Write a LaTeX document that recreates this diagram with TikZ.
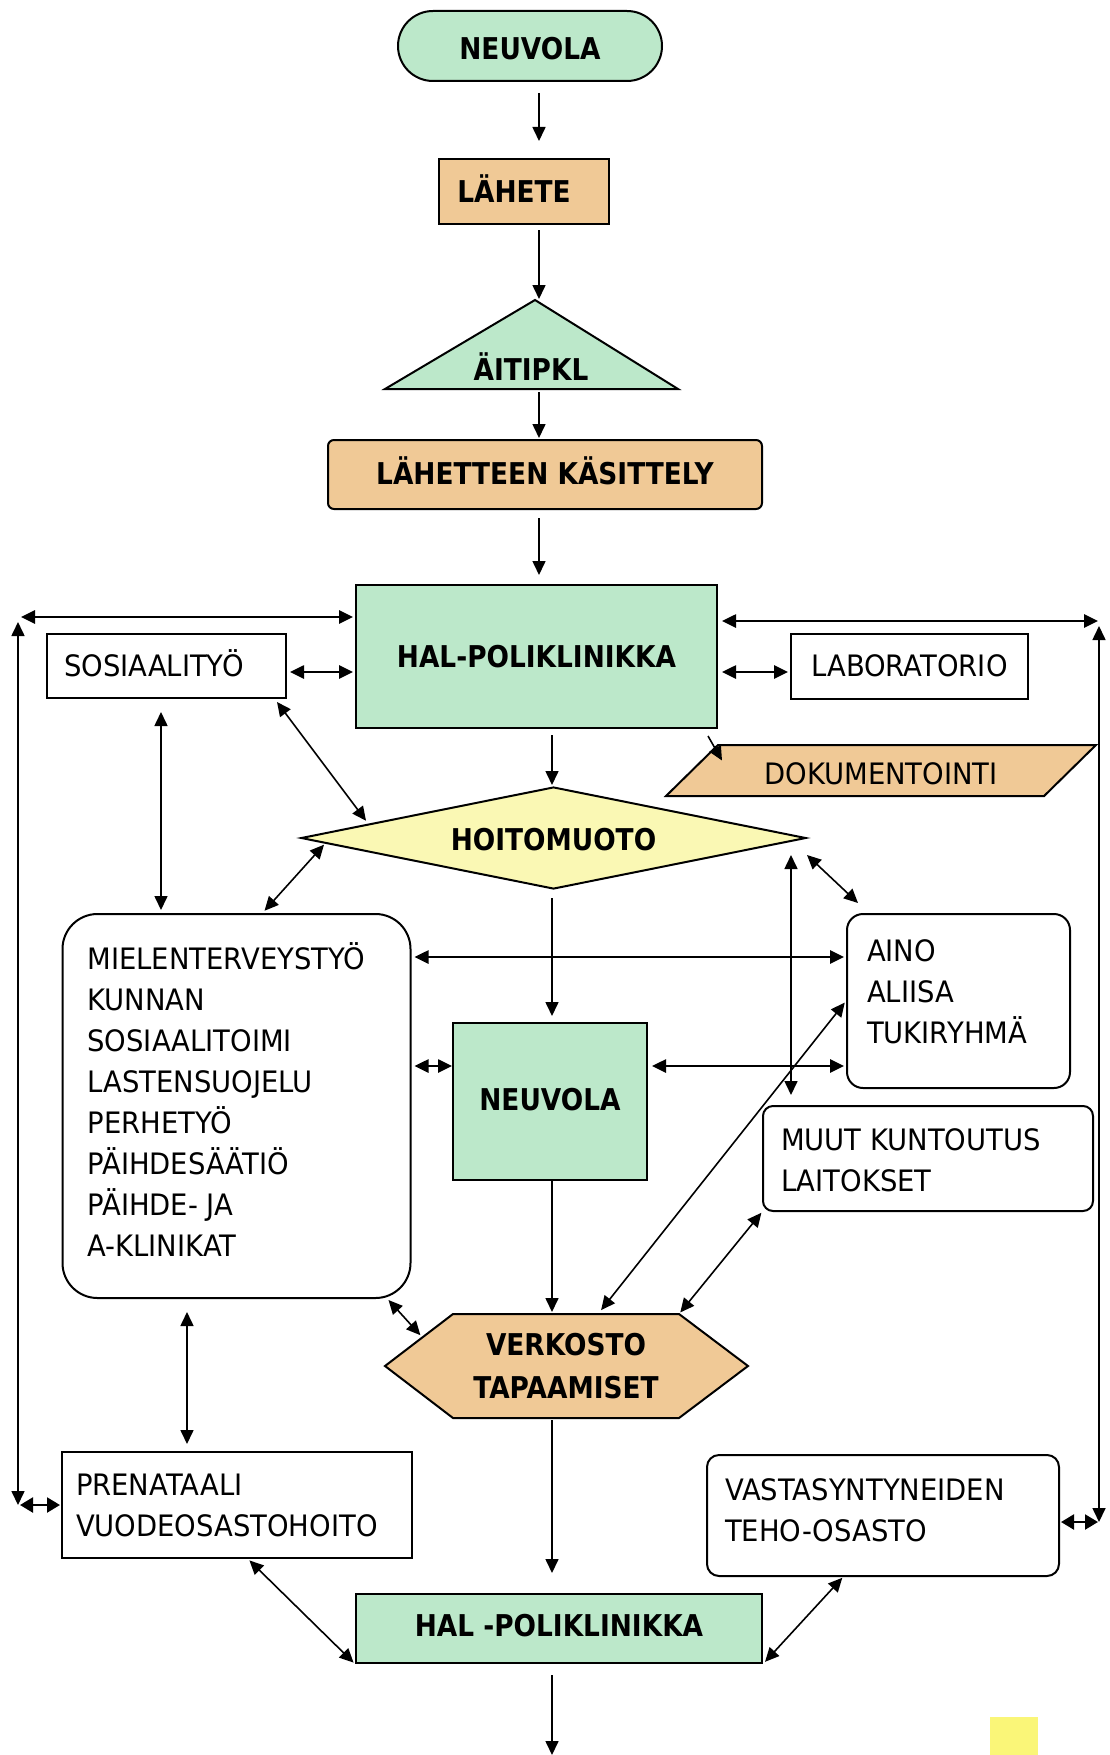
\documentclass[tikz,border=0pt]{standalone}
\usepackage{fontspec}
\newfontfamily\rfont[FakeStretch=0.93]{DejaVu Sans}
\newfontfamily\hfont[FakeStretch=0.88]{DejaVu Sans}
\usetikzlibrary{arrows.meta,shapes.geometric,calc}
\definecolor{mint}{RGB}{188,232,202}
\definecolor{tan}{RGB}{240,201,150}
\definecolor{lemon}{RGB}{250,248,180}
\definecolor{sticky}{RGB}{250,246,120}
\newcommand{\rb}[2]{\raisebox{#1}[\height][\depth]{#2}}
\newcommand{\lines}[3]{\raisebox{#1}[\height][\depth]{\parbox{#2}{\raggedright #3}}}
\tikzset{
  box/.style={draw=black, line width=2pt, inner sep=0pt, font={\rfont\fontsize{29.5}{41}\selectfont}},
  hd/.style={draw=black, line width=2pt, inner sep=0pt, font={\hfont\bfseries\fontsize{30}{43}\selectfont}},
  hdtext/.style={inner sep=0pt, font={\hfont\bfseries\fontsize{30}{43}\selectfont}, align=center},
  tip/.tip={Triangle[length=14pt,width=13pt]},
  stip/.tip={Triangle[length=13pt,width=15pt]},
  con/.style={line width=1.6pt, -tip},
  dcon/.style={line width=1.6pt, tip-tip},
  dthick/.style={line width=2.6pt, tip-tip},
  dshort/.style={line width=2.2pt, stip-stip},
}
\begin{document}
\begin{tikzpicture}[x=1pt,y=-1pt]
\useasboundingbox (0,0) rectangle (1109,1755);
% helper columns / rows
\coordinate (colA) at (539,0);
\coordinate (colB) at (552,0);
\coordinate (c161) at (161,0);
\coordinate (c187) at (187,0);
\coordinate (c791) at (791,0);
\coordinate (r672) at (0,672);
\coordinate (r957) at (0,957);
\coordinate (r1066) at (0,1066);

% ---- nodes ----
\node[hd, fill=mint, rounded corners=35pt, minimum width=264pt, minimum height=70pt] (neu1) at (530,46) {\rb{-3pt}{NEUVOLA}};
\node[hd, fill=tan, minimum width=170pt, minimum height=65pt] (lahete) at (524,191.5) {\rb{3pt}{LÄHETE}\hspace*{20pt}};

\coordinate (tritop) at (535,300);
\coordinate (triL) at (385,389);
\coordinate (triR) at (678,389);
\coordinate (tribase) at (535,389);
\filldraw[fill=mint, draw=black, line width=2pt, line join=miter] (tritop) -- (triR) -- (triL) -- cycle;
\node[hdtext] (aiti) at (531,367) {ÄITIPKL};

\node[hd, fill=tan, rounded corners=6pt, minimum width=434pt, minimum height=69pt] (kas) at (545,474.5) {\rb{4pt}{LÄHETTEEN KÄSITTELY}};
\node[hd, fill=mint, minimum width=361pt, minimum height=143pt] (hal1) at (536.5,656.5) {HAL-POLIKLINIKKA};
\node[box, fill=white, text width=205pt, align=left, inner xsep=17pt, minimum height=64pt] (sos) at (166.5,666) {\rb{3pt}{SOSIAALITYÖ}};
\node[box, fill=white, minimum width=237pt, minimum height=65pt] (lab) at (909.5,666.5) {\rb{1pt}{LABORATORIO}};
\node[box, fill=tan, trapezium, trapezium left angle=31, trapezium right angle=149, trapezium stretches=true, minimum width=432pt, minimum height=51pt] (dok) at (881,770.5) {\rb{-3pt}{DOKUMENTOINTI}};
\node[hd, fill=lemon, diamond, aspect=5, minimum width=505pt, minimum height=102pt] (hoito) at (553.5,838) {\rb{-2pt}{HOITOMUOTO}};

\node[box, fill=white, rounded corners=35pt, inner xsep=25pt, minimum height=384pt] (miel) at (236.5,1106)
  {\lines{6pt}{298pt}{MIELENTERVEYSTYÖ\\KUNNAN\\SOSIAALITOIMI\\LASTENSUOJELU\\PERHETYÖ\\PÄIHDESÄÄTIÖ\\PÄIHDE- JA\\A-KLINIKAT}};
\node[box, fill=white, rounded corners=16pt, inner xsep=20pt, minimum height=174pt] (aino) at (958.5,1001) {\lines{9pt}{183pt}{AINO\\ALIISA\\TUKIRYHMÄ}};
\node[hd, fill=mint, minimum width=194pt, minimum height=157pt] (neu2) at (550,1101.5) {\rb{2pt}{NEUVOLA}};
\node[box, fill=white, rounded corners=10pt, inner xsep=18pt, minimum height=105pt] (muut) at (928,1158.5) {\lines{-2pt}{294pt}{MUUT KUNTOUTUS\\LAITOKSET}};

\coordinate (hexL) at (385,1366);
\coordinate (hexTL) at (453,1314);
\coordinate (hexTR) at (679,1314);
\coordinate (hexR) at (748,1366);
\coordinate (hexBR) at (679,1418);
\coordinate (hexBL) at (453,1418);
\coordinate (hexTop) at (598,1314);
\filldraw[fill=tan, draw=black, line width=2pt, line join=miter] (hexL) -- (hexTL) -- (hexTR) -- (hexR) -- (hexBR) -- (hexBL) -- cycle;
\node[hdtext] (verk) at (566,1366) {VERKOSTO\\TAPAAMISET};

\node[box, fill=white, inner xsep=14pt, minimum height=106pt] (pren) at (237,1505) {\lines{0pt}{322pt}{PRENATAALI\\VUODEOSASTOHOITO}};
\node[box, fill=white, rounded corners=12pt, inner xsep=18pt, minimum height=121pt] (vast) at (883,1515.5) {\lines{5pt}{316pt}{VASTASYNTYNEIDEN\\TEHO-OSASTO}};
\node[hd, fill=mint, minimum width=406pt, minimum height=69pt] (hal2) at (559,1628.5) {\rb{3pt}{HAL -POLIKLINIKKA}};
\node[fill=sticky, inner sep=0pt, minimum width=48pt, minimum height=38pt] (note) at (1014,1736) {};

% ---- connectors ----
\draw[con, shorten <=11pt, shorten >=17pt] (neu1.south -| colA) -- (lahete.north -| colA);
\draw[con, shorten <=5pt, shorten >=1pt] (lahete.south -| colA) -- (tritop -| colA);
\draw[con, shorten <=3pt, shorten >=1pt] (tribase -| colA) -- (kas.north -| colA);
\draw[con, shorten <=8pt, shorten >=9pt] (kas.south -| colA) -- (hal1.north -| colA);

% left loop
\coordinate (LT) at (18,617);
\coordinate (LB) at (18,1505);
\draw[dthick, shorten <=3pt, shorten >=2pt] (LT) -- (hal1.west |- LT);
\draw[dcon, shorten <=5pt, shorten >=0pt] (LT) -- (LB);
\draw[dshort, shorten <=2pt, shorten >=1pt] (LB) -- (pren.west |- LB);
% right loop
\coordinate (RT) at (1099,621);
\coordinate (RB) at (1099,1522);
\draw[dthick, shorten <=4pt, shorten >=1pt] (hal1.east |- RT) -- (RT);
\draw[dcon, shorten <=5pt, shorten >=0pt] (RT) -- (RB);
\draw[dshort, shorten <=1pt, shorten >=1pt] (vast.east |- RB) -- (RB);

\draw[dthick, shorten <=3pt, shorten >=2pt] (sos.east |- r672) -- (hal1.west |- r672);
\draw[dthick, shorten <=4pt, shorten >=2pt] (hal1.east |- r672) -- (lab.west |- r672);
\draw[con, line width=1.6pt] ([shift={(-10,7)}]hal1.south east) -- ([shift={(-159,-10)}]dok.center);
\draw[con, shorten <=6pt, shorten >=1pt] (hal1.south -| colB) -- (hoito.north -| colB);
\draw[dcon, shorten >=4pt] ([shift={(-10,3)}]sos.south east) -- ($(hoito.west)!0.27!(hoito.north)$);
\draw[dcon, shorten <=13pt, shorten >=3pt] (sos.south -| c161) -- (miel.north -| c161);
\draw[dcon, shorten <=2pt, shorten >=3pt] ($(hoito.west)!0.1!(hoito.south)$) -- ([xshift=26pt]miel.north);
\draw[con, shorten <=8pt, shorten >=6pt] (hoito.south -| colB) -- (neu2.north -| colB);
\draw[dcon, shorten <=17pt, shorten >=10pt] (hoito.east -| c791) -- (muut.north -| c791);
\draw[dcon] ([yshift=-17pt]hoito.east) -- ([shift={(12,-10)}]aino.north west);
\draw[dthick, shorten <=3pt, shorten >=2pt] (miel.east |- r957) -- (aino.west |- r957);
\draw[dthick, shorten <=3pt] (miel.east |- r1066) -- (neu2.west |- r1066);
\draw[dthick, shorten <=4pt, shorten >=2pt] (neu2.east |- r1066) -- (aino.west |- r1066);
\draw[dcon, shorten <=5pt, shorten >=2pt] (hexTop) -- (aino.west);
\draw[con, shorten >=2pt] (neu2.south -| colB) -- (hexTL -| colB);
\draw[dcon, shorten >=3pt] ([shift={(-23,1)}]miel.south east) -- ($(hexL)!0.55!(hexTL)$);
\draw[dcon, shorten <=1pt, shorten >=2pt] (muut.south west) -- (hexTR);
\draw[dcon, shorten <=13pt, shorten >=7pt] (miel.south -| c187) -- (pren.north -| c187);
\draw[con, shorten <=2pt, shorten >=20pt] (hexBL -| colB) -- (hal2.north -| colB);
\draw[dcon, shorten <=2pt, shorten >=2pt] ([xshift=11pt]pren.south) -- (hal2.south west);
\draw[dcon, shorten <=1pt, shorten >=3pt] ([xshift=-40pt]vast.south) -- (hal2.south east);
\coordinate (exit) at (552,1755);
\draw[con, shorten <=11pt] (hal2.south -| colB) -- (exit);
\end{tikzpicture}
\end{document}
